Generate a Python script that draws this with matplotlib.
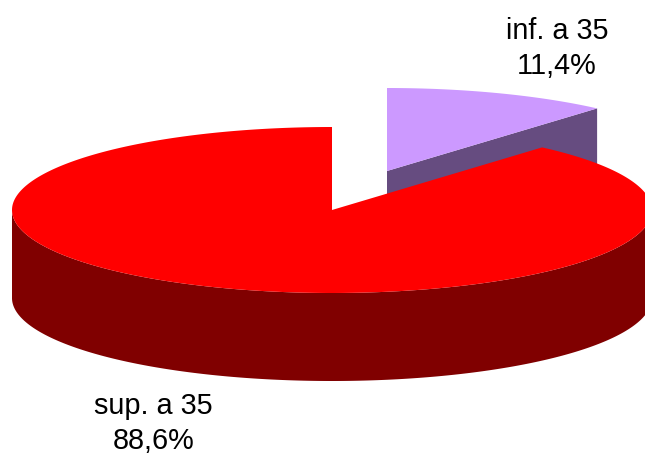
import numpy as np
import matplotlib
matplotlib.use("Agg")
import matplotlib.pyplot as plt

labels = ["inf. a 35", "sup. a 35"]
shares = [11.4, 88.6]
value_labels = ["11,4%", "88,6%"]
top_colors = ["#CC99FF", "#FF0000"]
side_colors = ["#664C80", "#800000"]

plt.rcParams["font.family"] = ["Liberation Sans", "DejaVu Sans"]
W, H = 645, 454
fig = plt.figure(figsize=(W / 100, H / 100), dpi=100)
ax = fig.add_axes([0, 0, 1, 1])
ax.set_xlim(0, W)
ax.set_ylim(H, 0)
ax.axis("off")

CX, CY, RX, RY, DEPTH = 332, 210, 320, 83, 88
OFFX, OFFY = 55, -39

def pt(a, cx, cy):
    return cx + RX * np.cos(a), cy - RY * np.sin(a)

a_start = np.pi / 2
a_small_end = a_start - np.deg2rad(shares[0] * 3.6)
a_big_end = a_start + np.deg2rad(shares[1] * 3.6)

# exploded small slice
cx, cy = CX + OFFX, CY + OFFY
th = np.linspace(a_start, a_small_end, 100)
x, y = pt(th, cx, cy)
ex, ey = pt(a_small_end, cx, cy)
ax.fill([cx, ex, ex, cx], [cy, ey, ey + DEPTH, cy + DEPTH], color=side_colors[0], lw=0, zorder=1)
ax.fill(np.r_[cx, x], np.r_[cy, y], color=top_colors[0], lw=0, zorder=2)

# big slice
th = np.linspace(a_start, a_big_end, 600)
x, y = pt(th, CX, CY)
side = np.linspace(np.pi, 2 * np.pi, 300)
sx, sy = pt(side, CX, CY)
ax.fill(np.r_[sx, sx[::-1]], np.r_[sy, sy[::-1] + DEPTH], color=side_colors[1], lw=0, zorder=3)
ax.fill(np.r_[CX, x], np.r_[CY, y], color=top_colors[1], lw=0, zorder=4)

ax.text(557, 48.5, f"{labels[0]}\n{value_labels[0]}", ha="center", va="center", fontsize=20.8, linespacing=1.34, color="black", zorder=5)
ax.text(153.5, 423.5, f"{labels[1]}\n{value_labels[1]}", ha="center", va="center", fontsize=20.8, linespacing=1.34, color="black", zorder=5)

fig.savefig("out.png", dpi=100)
